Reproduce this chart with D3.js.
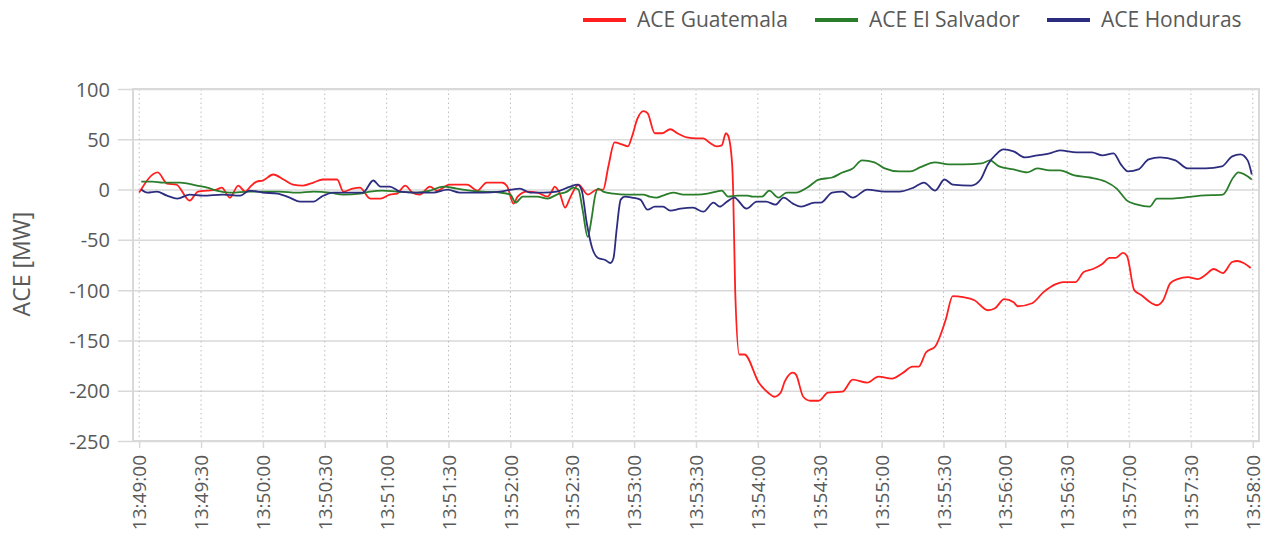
<!DOCTYPE html>
<html><head><meta charset="utf-8">
<script src="https://cdn.jsdelivr.net/npm/d3@7"></script>
<style>
body{margin:0;background:#fff}
text{font-family:"Open Sans",sans-serif;fill:#595959}
</style>
</head><body>
<svg id="chart" width="1265" height="542"></svg>
<script>
// ---- data (seconds after 13:49:00, ACE in MW) ----
const seriesNames = ["ACE Guatemala", "ACE El Salvador", "ACE Honduras"];
const seriesColors = ["#ff1f1f", "#2a7d2a", "#2d2d80"];
const yTicks = [100, 50, 0, -50, -100, -150, -200, -250];
const xTickSeconds = [0,30,60,90,120,150,180,210,240,270,300,330,360,390,420,450,480,510,540];

const guatemala = [[0,-3],[9,17],[13.5,6],[18,5],[24.5,-11],[28.5,-2],[33,-1],[37.5,0],[40,2],[44,-8],[48,4],[51.5,-2],[53.5,2],[57,8],[60,9],[65,15],[70,10],[74.5,5],[79.5,4],[84.5,7],[89,10],[96,10],[99,-2],[103.5,1],[107,2],[112,-9],[117,-9],[121.5,-5],[125,-4],[129,4],[132.5,-3],[136,-5],[141,3],[144.5,-1],[150.5,5],[159,5],[164,-1],[168.5,7],[176,7],[178.5,3],[181.5,-14],[183.5,-7],[188,-2],[193,-3],[198,-7],[200,-2],[201.5,3],[204,-4],[206.5,-18],[209,-8],[213,5],[217.5,-5],[222,0],[225,0],[227.5,23],[230.5,47],[234,45],[237,43],[239,53],[241.5,70],[244.5,78],[246.5,76],[250,56],[253.5,56],[257.5,60],[261,56],[265.5,52],[270.5,51],[273.5,51],[277,46],[280,43],[282.5,44],[284.5,56],[285.5,54],[287.5,26],[288,0],[289,-100],[291,-164],[293.5,-164],[300.5,-192],[305,-202],[308,-206],[311,-202],[313,-191],[317,-182],[318.5,-184],[322,-206],[325.5,-210],[329.5,-210],[334,-202],[341,-201],[346,-189],[353,-192],[358.5,-186],[365,-188],[370.5,-182],[375,-176],[378,-176],[381.5,-162],[386,-156],[391,-130],[394.5,-106],[399.5,-107],[405,-110],[411.5,-120],[415,-118],[419.5,-109],[424,-112],[426,-116],[433,-113],[438.5,-102],[444.5,-94],[448,-92],[454,-92],[458,-82],[462.5,-79],[467,-74],[470.5,-68],[473.5,-68],[477,-63],[479,-66],[482.5,-100],[486,-105],[491,-113],[493.5,-115],[496.5,-110],[500,-93],[503.5,-89],[508.5,-87],[513.5,-89],[517,-85],[521,-79],[525.5,-83],[530,-72],[532.5,-71],[535.5,-73],[539,-78]];

const elSalvador = [[1,8],[6.5,8],[11.5,7],[20,7],[28,4],[33,2],[37.5,-1],[44,-3],[53.5,-2],[68,-2],[76.5,-3],[84.5,-2],[92.5,-3],[99,-5],[107,-4],[112,-2],[118,-1],[125,-2],[134.5,-3],[141,-1],[147.5,3],[154,1],[160.5,-1],[167,-2],[175,-3],[180,-5],[182.5,-13],[186,-7],[193,-7],[198,-9],[202.5,-5],[207.5,-2],[210.5,2],[213,0],[215,-20],[217.5,-47],[219.5,-27],[221,-7],[222.5,1],[225,-2],[230,-4],[236.5,-5],[244.5,-5],[247.5,-7],[251,-8],[254,-6],[259,-3],[264,-5],[270.5,-5],[275.5,-4],[280,-2],[282.5,-1],[285.5,-7],[290,-6],[295,-6],[297.5,-7],[302,-7],[305.5,-1],[310,-8],[314,-3],[318.5,-3],[324,2],[329.5,10],[336,12],[341,17],[346,21],[350.5,29],[356.5,27],[361.5,21],[368.5,18],[374,18],[378.5,22],[386,27],[392.5,25],[399.5,25],[408.5,26],[412.5,29],[417,23],[424,20],[430.5,17],[435.5,21],[441.5,19],[446.5,19],[453.5,14],[461,12],[468.5,8],[474,1],[479,-11],[484,-15],[490,-17],[493.5,-9],[500,-9],[506.5,-8],[514.5,-6],[525.5,-5],[530.5,12],[533,17],[539.5,10]];

const honduras = [[1,0],[4,-3],[8.5,-2],[13.5,-6],[18.5,-9],[24.5,-5],[31,-6],[40.5,-5],[49,-6],[53.5,-1],[60,-3],[67,-4],[73,-8],[78,-12],[84.5,-12],[88.5,-7],[94,-3],[108.5,-3],[113.5,9],[117,3],[121.5,3],[126.5,-2],[134.5,-3],[142.5,-3],[149.5,0],[155.5,-3],[167,-3],[175,-2],[184.5,1],[189.5,-3],[196,-3],[202.5,-2],[209,3],[212.5,5],[214.5,0],[217,-33],[219.5,-57],[222.5,-68],[226,-70],[228.5,-73],[230,-68],[231.5,-40],[233.5,-10],[235.5,-7],[239,-8],[243,-10],[246.5,-20],[250,-17],[254,-17],[257.5,-21],[262.5,-19],[268.5,-18],[273.5,-22],[278.5,-13],[281.5,-17],[285,-12],[288.5,-8],[294.5,-19],[299.5,-12],[304,-12],[308.5,-15],[312.5,-8],[317,-14],[321,-17],[327.5,-13],[330.5,-13],[336,-3],[341,-2],[346,-8],[353,0],[361.5,-2],[368.5,-2],[375.5,2],[380.5,7],[386,-1],[390.5,10],[394.5,5],[403.5,4],[408,10],[411.5,25],[415.5,35],[419,40],[424,38],[429.5,32],[435.5,34],[441.5,36],[446.5,39],[454.5,37],[462,37],[467,34],[472.5,36],[476,25],[479.5,18],[484.5,20],[489.5,30],[495,32],[502.5,29],[508.5,21],[517,21],[525,23],[530,33],[534,35],[537.5,29],[539.5,15]];

const allSeries = [guatemala, elSalvador, honduras];

// ---- layout ----
const mLeft = 133, mRight = 1259, mTop = 89, mBottom = 441;
const t0 = new Date(2000, 0, 1, 13, 49, 0);
const sec = s => new Date(t0.getTime() + s * 1000);

const svg = d3.select("#chart");
const x = d3.scaleTime().domain([sec(-3), sec(543)]).range([mLeft, mRight]);
const y = d3.scaleLinear().domain([-250, 100]).range([mBottom, mTop]);
const gridCol = "#d9d9d9";

// horizontal grid (solid) with tick stubs to the left
const yAxis = d3.axisLeft(y).tickValues(yTicks).tickSize(mRight - mLeft + 15).tickPadding(8).tickFormat(d => String(d));
const gy = svg.append("g").attr("transform", `translate(${mRight},0)`).call(yAxis);
gy.select(".domain").remove();
gy.selectAll(".tick line").attr("stroke", gridCol).attr("stroke-width", 1.5);
gy.selectAll(".tick text").attr("font-size", 20).attr("fill", "#595959").attr("dy", "0.35em");

// vertical grid (dotted)
svg.append("g").selectAll("line").data(xTickSeconds).join("line")
  .attr("x1", d => x(sec(d))).attr("x2", d => x(sec(d)))
  .attr("y1", mTop).attr("y2", mBottom)
  .attr("stroke", "#bdbdbd").attr("stroke-width", 1).attr("stroke-dasharray", "1.5,3");

// x axis
const xAxis = d3.axisBottom(x).tickValues(xTickSeconds.map(sec)).tickSize(7).tickPadding(4).tickFormat(d3.timeFormat("%H:%M:%S"));
const gx = svg.append("g").attr("transform", `translate(0,${mBottom})`).call(xAxis);
gx.select(".domain").remove();
gx.selectAll(".tick line").attr("stroke", gridCol).attr("stroke-width", 1.5);
gx.selectAll(".tick text").attr("font-size", 19).attr("fill", "#595959")
  .attr("text-anchor", "end").attr("transform", "rotate(-90)")
  .attr("x", -14).attr("y", 0).attr("dy", "0.35em");

// frame
svg.append("rect").attr("x", mLeft).attr("y", mTop).attr("width", mRight - mLeft).attr("height", mBottom - mTop)
  .attr("fill", "none").attr("stroke", gridCol).attr("stroke-width", 2);

// y title
svg.append("text").attr("transform", "translate(30,264) rotate(-90)")
  .attr("text-anchor", "middle").attr("font-size", 23).attr("fill", "#595959").text("ACE [MW]");

// lines
const line = d3.line().x(d => x(sec(d[0]))).y(d => y(d[1])).curve(d3.curveMonotoneX);
svg.append("g").selectAll("path").data(allSeries).join("path")
  .attr("d", line).attr("fill", "none")
  .attr("stroke", (d, i) => seriesColors[i]).attr("stroke-width", 1.8)
  .attr("stroke-linejoin", "round");

// legend
const legendX = [583, 815, 1047];
const lg = svg.append("g").selectAll("g").data(seriesNames).join("g")
  .attr("transform", (d, i) => `translate(${legendX[i]},20)`);
lg.append("line").attr("x1", 0).attr("x2", 43).attr("y1", 0).attr("y2", 0)
  .attr("stroke", (d, i) => seriesColors[i]).attr("stroke-width", 4);
lg.append("text").attr("x", 54).attr("y", 0).attr("dy", "0.35em").attr("font-size", 21)
  .attr("fill", "#333").text(d => d);
</script>
</body></html>
